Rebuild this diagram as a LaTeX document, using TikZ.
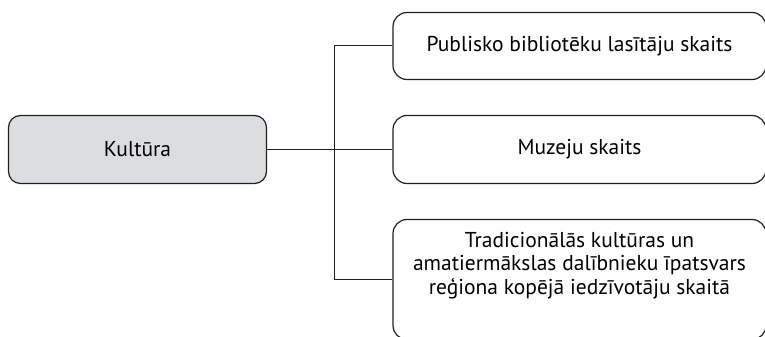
\documentclass[tikz,border=0pt]{standalone}
\usepackage{fontspec}
\setmainfont{PT Sans}
\definecolor{boxfill}{HTML}{DCDDDE}
\definecolor{ink}{HTML}{231F20}
\begin{document}
\begin{tikzpicture}[x=1pt,y=-1pt,
  txt/.style={font=\fontsize{21.5}{23.5}\selectfont},
  box/.style={draw=ink, line width=1.2pt, rounded corners=14pt, align=center, inner sep=0pt, txt},
  conn/.style={draw=ink, line width=1pt}]
\useasboundingbox (0,0) rectangle (765,337);
\clip (0,0) rectangle (765,337);
\node[box, fill=boxfill, minimum width=258pt, minimum height=68pt, rounded corners=12pt] (k) at (137.5,149.5) {Kultūra};
\node[box, minimum width=373pt, minimum height=67pt] (b1) at (579.5,46) {Publisko bibliotēku lasītāju skaits};
\node[box, minimum width=373pt, minimum height=68pt] (b2) at (579.5,149.5) {Muzeju skaits};
\node[box, minimum width=373pt, minimum height=120pt] (b3) at (579.5,279.5) {};
\node[align=center, inner sep=0pt, txt] (t3) at (579.5,265.5) {Tradicionālās kultūras un\\amatiermākslas dalībnieku īpatsvars\\reģiona kopējā iedzīvotāju skaitā};
\coordinate (tr) at (334,0);
\draw[conn] (k.east) -- (b2.west);
\draw[conn] (b1.west) -- (b1.west -| tr) -- (b3.west -| tr) -- (b3.west);
\end{tikzpicture}
\end{document}
